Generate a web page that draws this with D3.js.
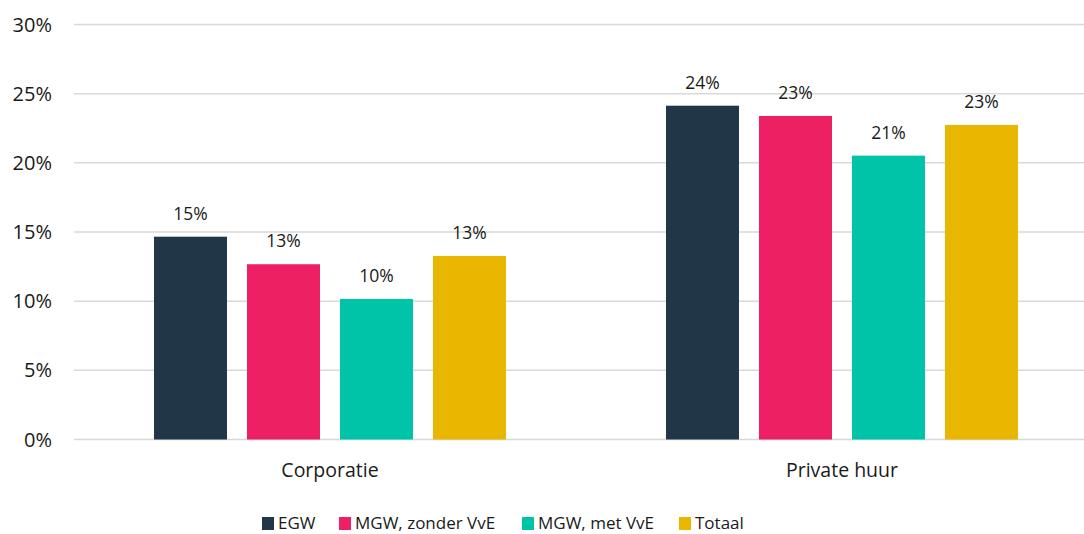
<!DOCTYPE html>
<html>
<head>
<meta charset="utf-8">
<script src="https://cdn.jsdelivr.net/npm/d3@7"></script>
<style>
  body { margin: 0; background: #fff; }
  text { font-family: "Open Sans", sans-serif; fill: #1a1a1a; }
</style>
</head>
<body>
<div id="chart"></div>
<script>
const categories = ["Corporatie", "Private huur"];
const series = ["EGW", "MGW, zonder VvE", "MGW, met VvE", "Totaal"];
const colors = ["#213748", "#ED2064", "#00C4A8", "#E9B600"];
// values per series, in the order of categories (percent)
const values = [
  [14.66, 24.13],
  [12.67, 23.39],
  [10.16, 20.52],
  [13.27, 22.74]
];
const labels = [
  ["15%", "24%"],
  ["13%", "23%"],
  ["10%", "21%"],
  ["13%", "23%"]
];
const yTicks = [0, 5, 10, 15, 20, 25, 30];

const W = 1084, H = 534;
const svg = d3.select("#chart").append("svg")
  .attr("width", W).attr("height", H);

const y = d3.scaleLinear().domain([0, 30]).range([439.5, 24.5]);
const x0 = d3.scaleBand().domain(categories).range([74, 1098]);
const x1 = d3.scaleBand().domain(series).range([0, x0.bandwidth()])
  .paddingInner(0.215).paddingOuter(0.86);
const color = d3.scaleOrdinal().domain(series).range(colors);

// gridlines
svg.append("g").selectAll("line")
  .data(yTicks)
  .enter().append("line")
  .attr("x1", 74).attr("x2", W)
  .attr("y1", d => y(d)).attr("y2", d => y(d))
  .style("stroke", "#D9D9D9")
  .style("stroke-width", 1.5);

// y tick labels
svg.append("g").selectAll("text")
  .data(yTicks)
  .enter().append("text")
  .attr("x", 52).attr("y", d => y(d))
  .attr("dy", "0.35em")
  .attr("text-anchor", "end")
  .style("font-size", "20px")
  .text(d => d + "%");

// bars
const rows = [];
series.forEach((s, i) => {
  categories.forEach((c, j) => {
    rows.push({ series: s, cat: c, value: values[i][j], label: labels[i][j] });
  });
});

svg.append("g").selectAll("rect")
  .data(rows)
  .enter().append("rect")
  .attr("x", d => x0(d.cat) + x1(d.series))
  .attr("y", d => y(d.value))
  .attr("width", x1.bandwidth())
  .attr("height", d => y(0) - y(d.value))
  .style("fill", d => color(d.series));

// data labels
svg.append("g").selectAll("text")
  .data(rows)
  .enter().append("text")
  .attr("x", d => x0(d.cat) + x1(d.series) + x1.bandwidth() / 2)
  .attr("y", d => y(d.value) - 23)
  .attr("dy", "0.35em")
  .attr("text-anchor", "middle")
  .style("font-size", "17.5px")
  .text(d => d.label);

// category labels
svg.append("g").selectAll("text")
  .data(categories)
  .enter().append("text")
  .attr("x", d => x0(d) + x0.bandwidth() / 2)
  .attr("y", 470)
  .attr("dy", "0.35em")
  .attr("text-anchor", "middle")
  .style("font-size", "19.5px")
  .text(d => d);

// legend
const legendX = [262, 339, 522, 679];
const legend = svg.append("g").selectAll("g")
  .data(series)
  .enter().append("g")
  .attr("transform", (d, i) => "translate(" + legendX[i] + ",517)");
legend.append("rect")
  .attr("width", 12).attr("height", 13)
  .style("fill", d => color(d));
legend.append("text")
  .attr("x", 16).attr("y", 6.5)
  .attr("dy", "0.35em")
  .style("font-size", "17px")
  .text(d => d);
</script>
</body>
</html>
